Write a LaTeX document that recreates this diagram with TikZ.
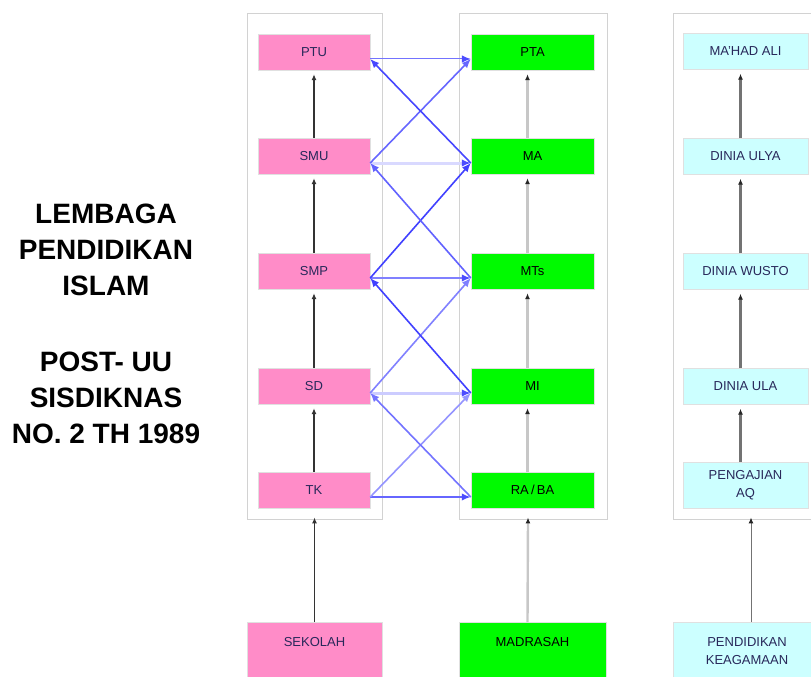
\documentclass[tikz,border=0pt]{standalone}
\usepackage{fontspec}
\setmainfont{Liberation Sans}
\usetikzlibrary{arrows.meta}

\definecolor{sekolahpink}{RGB}{255,140,200}
\definecolor{madrasahgreen}{RGB}{0,250,0}
\definecolor{diniacyan}{RGB}{204,255,255}
\definecolor{framegray}{RGB}{210,210,210}
\definecolor{boxtext}{RGB}{40,40,90}

\begin{document}
\begin{tikzpicture}[x=1pt,y=-1pt,>=Latex,
  box/.style={draw=black!12,minimum height=36pt,inner sep=1pt,align=center,
    text=boxtext,font=\fontsize{13}{18}\selectfont},
  panel/.style={draw=framegray,line width=0.9pt},
  upblack/.style={-{Latex[length=6pt,width=5pt]},black!80,line width=1.1pt,shorten >=4pt},
  upgray/.style={-{Latex[length=6pt,width=5pt,color=black!85]},black!22,line width=2.4pt,shorten >=4pt},
  updark/.style={-{Latex[length=6pt,width=5pt,color=black!85]},black!55,line width=2.2pt,shorten >=4pt},
  link/.style={-{Latex[length=9pt,width=7.5pt]},line width=1.6pt}]
  \useasboundingbox (0,0) rectangle (811,677);

  % title
  \node[align=center,font=\fontsize{28}{36}\selectfont\bfseries] (title) at (106,324)
    {LEMBAGA\\PENDIDIKAN\\ISLAM\\[40pt]POST- UU\\SISDIKNAS\\NO. 2 TH 1989};

  % the three frames
  \node[panel,minimum width=135pt,minimum height=506pt] (sekolahcol) at (314.5,266) {};
  \node[panel,minimum width=148pt,minimum height=506pt] (madrasahcol) at (533,266) {};
  \node[panel,minimum width=148pt,minimum height=506pt] (diniacol) at (747,266) {};

  % boxes
  \foreach \name/\txt/\yy in {ptu/PTU/52,smu/SMU/156,smp/SMP/271,sd/SD/386,tk/TK/490}
    \node[box,fill=sekolahpink,minimum width=112pt] (\name) at (314,\yy) {\txt};
  \foreach \name/\txt/\yy in {pta/PTA/52,ma/MA/156,mts/MTs/271,mi/MI/386,raba/{RA\,/\,BA}/490}
    \node[box,fill=madrasahgreen,text=black,minimum width=123pt] (\name) at (532.5,\yy) {\txt};
  \foreach \name/\txt/\yy/\hh in {mahad/MA'HAD ALI/51.5/36,ulya/DINIA ULYA/156.5/36,
      wusto/DINIA WUSTO/271.5/36,ula/DINIA ULA/386.5/36,aq/{PENGAJIAN\\AQ}/485/46}
    \node[box,fill=diniacyan,minimum width=125pt,minimum height=\hh pt] (\name) at (745.5,\yy) {\txt};

  \node[box,fill=sekolahpink,anchor=north,minimum width=135pt,minimum height=58pt,text depth=18pt]
    (sekolah) at (314.5,622) {SEKOLAH};
  \node[box,fill=madrasahgreen,text=black,anchor=north,minimum width=147pt,minimum height=58pt,text depth=18pt]
    (madrasah) at (532.5,622) {MADRASAH};
  \node[box,fill=diniacyan,anchor=north,minimum width=148pt,minimum height=58pt]
    (pendidikan) at (747,622) {PENDIDIKAN\\KEAGAMAAN};

  % arrows inside the columns
  \foreach \lo/\hi in {smu/ptu,smp/smu,sd/smp,tk/sd}
    \draw[upblack] (\lo) -- (\hi);
  \foreach \lo/\hi in {ma/pta,mts/ma,mi/mts,raba/mi}
    \draw[upgray] ([xshift=-5pt]\lo.north) -- ([xshift=-5pt]\hi.south);
  \foreach \lo/\hi in {ulya/mahad,wusto/ulya,ula/wusto,aq/ula}
    \draw[updark] ([xshift=-5pt]\lo.north) -- ([xshift=-5pt]\hi.south);

  % arrows from the bottom boxes
  \draw[upblack,line width=1.4pt,shorten >=-2pt] (sekolah) -- (sekolahcol);
  \draw[upgray,shorten >=-2pt] ([xshift=-5pt]madrasah.north) -- ([xshift=-5pt]madrasahcol.south);
  \draw[updark,line width=1pt,shorten >=-2pt] ([xshift=4pt]pendidikan.north) -- ([xshift=4pt]diniacol.south);

  % sekolah <-> madrasah links
  \foreach \a/\b/\shade/\wd in {ptu/pta/55/1.0,smu/ma/15/3.0,smp/mts/50/2.8,sd/mi/20/3.0,tk/raba/60/2.0}
    \draw[link,draw=blue!\shade,line width=\wd pt,-{Latex[length=9pt,width=7.5pt,color=blue!70]}]
      ([yshift=-7pt]\a.east) -- ([yshift=-7pt]\b.west);
  \foreach \lo/\hi/\shade in {smu/pta/60,smp/ma/75,sd/mts/50,tk/mi/42}
    \draw[link,draw=blue!\shade] ([yshift=-7pt]\lo.east) -- ([yshift=-7pt]\hi.west);
  \foreach \lo/\hi/\shade in {ma/ptu/72,mts/smu/62,mi/smp/75,raba/sd/55}
    \draw[link,draw=blue!\shade] ([yshift=-7pt]\lo.west) -- ([yshift=-7pt]\hi.east);
\end{tikzpicture}
\end{document}
